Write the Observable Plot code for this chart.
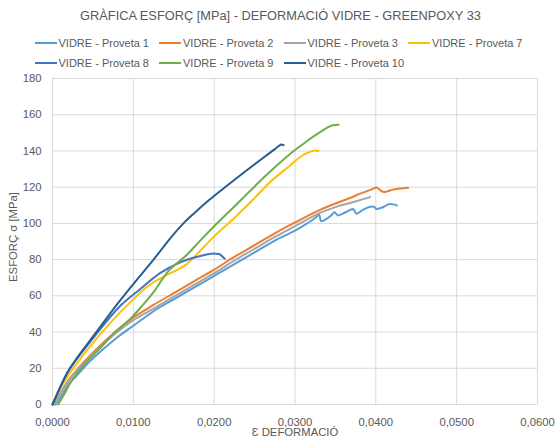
<!DOCTYPE html>
<html><head><meta charset="utf-8">
<script src="https://cdn.jsdelivr.net/npm/d3@7"></script>
<script src="https://cdn.jsdelivr.net/npm/@observablehq/plot@0.6"></script>
<style>
body{margin:0;background:#fff;font-family:"Liberation Sans",Arial,sans-serif;}
#wrap{position:relative;width:557px;height:441px;overflow:hidden;}
#title{position:absolute;left:2px;width:557px;top:8px;line-height:16px;text-align:center;font-size:12.8px;color:#595959;white-space:nowrap;}
.leg{position:absolute;height:14px;font-size:11px;color:#595959;display:flex;align-items:center;white-space:nowrap;}
.leg .sw{display:inline-block;width:22px;height:2px;margin-right:2px;}
.axt{position:absolute;font-size:11.3px;color:#595959;white-space:nowrap;line-height:13px;}
#chart{position:absolute;left:0;top:0;}
</style></head>
<body>
<div id="wrap">
  <div id="chart"></div>
  <div id="title">GRÀFICA ESFORÇ [MPa] - DEFORMACIÓ VIDRE - GREENPOXY 33</div>
  <div id="legend"></div>
  <div class="axt" id="xt" style="left:0;width:590px;text-align:center;top:426px;">Ɛ DEFORMACIÓ</div>
  <div class="axt" id="yt" style="left:13px;top:237px;transform:translate(-50%,-50%) rotate(-90deg);">ESFORÇ σ [MPa]</div>
</div>
<script>
const seriesNames = ["VIDRE - Proveta 1","VIDRE - Proveta 2","VIDRE - Proveta 3","VIDRE - Proveta 7","VIDRE - Proveta 8","VIDRE - Proveta 9","VIDRE - Proveta 10"];
const seriesColors = ["#5B9BD5","#ED7D31","#A5A5A5","#FFC000","#4472C4","#70AD47","#255E91"];

const xTicks = [0,0.01,0.02,0.03,0.04,0.05,0.06];
const yTicks = [0,20,40,60,80,100,120,140,160,180];

const p1Strain = [0.0004,0.001,0.002,0.003,0.004,0.006,0.008,0.01,0.0117,0.0125,0.015,0.0175,0.02,0.0225,0.025,0.0275,0.03,0.0315,0.0325,0.033,0.0332,0.0345,0.0349,0.0353,0.0362,0.0367,0.0372,0.0376,0.0384,0.0389,0.0397,0.0401,0.041,0.0417,0.0422,0.0426];
const p1Stress = [0,4,11,16,21,29.5,37,43.5,49,51.5,58,64.5,71,77.5,84,90.5,96,100,103,104.8,101.2,104.5,106.2,104.4,106,107.2,108,105.3,107.5,108.6,109.3,108,109.2,110.7,110.5,109.9];

const p2Strain = [0.0002,0.001,0.002,0.003,0.004,0.006,0.008,0.01,0.0125,0.015,0.0175,0.02,0.0225,0.025,0.0275,0.03,0.0331,0.035,0.0368,0.038,0.0395,0.0401,0.0405,0.041,0.0415,0.042,0.043,0.044];
const p2Stress = [0,6.5,13.5,19,24,33,41,48,55,61.5,68,74.5,81.5,88,94.5,100.5,107.5,111,114,116.3,118.8,119.8,118.5,117.3,117.8,118.5,119.2,119.7];

const p3Strain = [0.0003,0.001,0.002,0.003,0.004,0.006,0.008,0.01,0.0125,0.015,0.0175,0.02,0.0225,0.025,0.0275,0.03,0.0331,0.035,0.0368,0.0393];
const p3Stress = [0,6,13,18.5,23.5,32,40,46.5,53,59.5,66,72.5,79.5,86,92.5,98.5,105.8,109,111.3,114.5];

const p7Strain = [0,0.0005,0.001,0.002,0.003,0.004,0.00576,0.0084,0.01,0.0109,0.0125,0.0146,0.0166,0.0183,0.0199,0.0225,0.0247,0.0269,0.0294,0.0306,0.0319,0.0325,0.0329];
const p7Stress = [0,4.5,9,16.5,22.5,28.5,38,51,58,62,67.5,72.5,77.5,85,92.4,103,112.6,122.7,132,136.5,139.6,140.3,140];

const p8Strain = [0,0.0005,0.001,0.00185,0.003,0.005,0.0084,0.0109,0.0133,0.0158,0.0183,0.0199,0.0206,0.021,0.0213];
const p8Stress = [0,5,10,17.5,25,36.5,54.5,63.9,72.5,78.5,82,83.4,83.1,81.8,80.5];

const p9Strain = [0.0007,0.0015,0.0022,0.003,0.004,0.00576,0.0075,0.0099,0.011,0.0125,0.0142,0.0166,0.0183,0.0199,0.023,0.024,0.0269,0.03,0.0306,0.0331,0.0347,0.0354];
const p9Stress = [0,6,12,17,22.5,30.5,39,48.5,54,62,73,82.5,90.6,98,111.5,116,128.5,140.5,142.5,150.4,154.2,154.5];

const p10Strain = [0,0.0005,0.001,0.00185,0.003,0.00535,0.0082,0.01,0.0125,0.0148,0.0162,0.0175,0.0193,0.0215,0.024,0.026,0.0275,0.028,0.0283,0.0286];
const p10Stress = [0,5,10,17.8,25.5,39.5,56.5,66.5,80,93,100,105.5,112.6,120.5,129.2,136,141,142.7,143.6,143.2];

const strains = [p1Strain,p2Strain,p3Strain,p7Strain,p8Strain,p9Strain,p10Strain];
const stresses = [p1Stress,p2Stress,p3Stress,p7Stress,p8Stress,p9Stress,p10Stress];

const rows = [];
seriesNames.forEach((name,i)=>{
  strains[i].forEach((s,j)=>rows.push({serie:name, strain:s, stress:stresses[i][j]}));
});

const fmtX = d => d.toFixed(4).replace(".", ",");

const chart = Plot.plot({
  width:557, height:441,
  marginTop:78, marginBottom:37, marginLeft:52, marginRight:20,
  style:{fontFamily:'"Liberation Sans",Arial,sans-serif', fontSize:"11.3px", color:"#595959", background:"transparent"},
  x:{domain:[0,0.06]},
  y:{domain:[0,180]},
  color:{domain:seriesNames, range:seriesColors},
  marks:[
    Plot.gridX(xTicks,{stroke:"#d9d9d9", strokeOpacity:1, strokeWidth:1}),
    Plot.gridY(yTicks,{stroke:"#d9d9d9", strokeOpacity:1, strokeWidth:1}),
    Plot.axisX(xTicks,{tickSize:0, tickPadding:13, tickFormat:fmtX, label:null}),
    Plot.axisY(yTicks,{tickSize:0, tickPadding:11, label:null}),
    Plot.line(rows,{x:"strain", y:"stress", z:"serie", stroke:"serie", strokeWidth:2, curve:"monotone-x"})
  ]
});
document.getElementById("chart").appendChild(chart);

const legend = document.getElementById("legend");
seriesNames.forEach((name,i)=>{
  const row = Math.floor(i/4), col = i%4;
  const d = document.createElement("div");
  d.className = "leg";
  d.style.left = (34.5 + col*124.5) + "px";
  d.style.top = (36 + row*19.5) + "px";
  const sw = document.createElement("span");
  sw.className = "sw";
  sw.style.background = seriesColors[i];
  const t = document.createElement("span");
  t.textContent = name;
  d.appendChild(sw); d.appendChild(t);
  legend.appendChild(d);
});
</script>
</body></html>
